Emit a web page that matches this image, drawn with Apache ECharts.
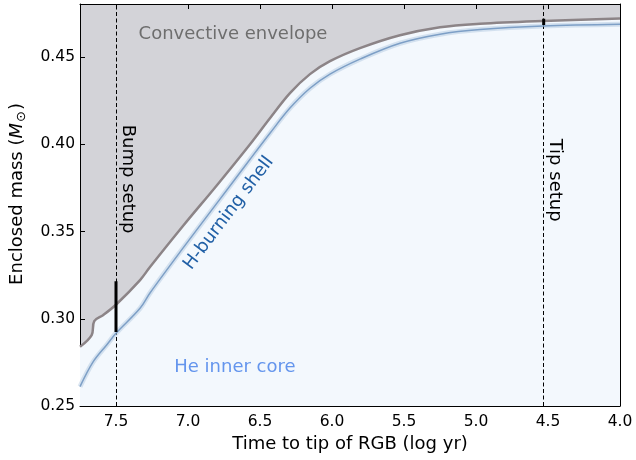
<!DOCTYPE html>
<html>
<head>
<meta charset="utf-8">
<script src="https://cdn.jsdelivr.net/npm/echarts@6/dist/echarts.min.js"></script>
<style>html,body{margin:0;padding:0;background:#fff}#c{width:636px;height:460px}</style>
</head>
<body>
<div id="c"></div>
<script>
// Base of convective envelope (upper curve)
const envX = [7.75, 7.669, 7.651, 7.588, 7.495, 7.333, 7.264, 7.035, 6.799, 6.569, 6.431, 6.292, 6.153, 6.014, 5.806, 5.528, 5.250, 4.972, 4.535, 4.0];
const envM = [0.2840, 0.2907, 0.2987, 0.3022, 0.3085, 0.3222, 0.3297, 0.3532, 0.3766, 0.4001, 0.4150, 0.4294, 0.4403, 0.4477, 0.4552, 0.4626, 0.4672, 0.4692, 0.4708, 0.4722];
// H-burning shell (lower curve)
const shellX = [7.75, 7.658, 7.565, 7.5, 7.333, 7.264, 7.035, 6.799, 6.569, 6.431, 6.292, 6.153, 6.014, 5.806, 5.528, 5.25, 4.972, 4.535, 4.0];
const shellM = [0.2611, 0.2754, 0.2850, 0.2917, 0.3060, 0.3148, 0.3405, 0.3663, 0.3915, 0.4064, 0.4208, 0.4322, 0.4403, 0.4489, 0.4580, 0.4632, 0.4659, 0.4679, 0.4689];
// setup markers
const bumpX = 7.5, bumpRange = [0.2925, 0.3215];
const tipX = 4.53, tipRange = [0.4685, 0.4721];
// axis ticks
const xTicks = [4.0, 4.5, 5.0, 5.5, 6.0, 6.5, 7.0, 7.5];
const yTicks = [0.25, 0.30, 0.35, 0.40, 0.45];
// annotations [text, x, y, rotationDeg, color]
const notes = [
  ['Convective envelope', 6.6875, 0.4632, 0, '#6e6e6e'],
  ['He inner core', 6.674, 0.2724, 0, '#6495ed'],
  ['H-burning shell', 6.717, 0.3606, 52.8, '#2160a6'],
  ['Bump setup', 7.417, 0.3801, -90, '#000000'],
  ['Tip setup', 4.451, 0.3795, -90, '#000000']
];

const FF = 'DejaVu Sans';
const zip = (a, b) => a.map((v, i) => [v, b[i]]);
const chart = echarts.init(document.getElementById('c'), null, {renderer: 'canvas'});

const xBase = {
  type: 'value', min: 4.0, max: 7.75, interval: 0.5, inverse: true,
  axisLine: {show: true, onZero: false, lineStyle: {color: '#000', width: 1}},
  axisTick: {show: true, inside: true, length: 5, lineStyle: {color: '#000'}},
  splitLine: {show: false}
};
const yBase = {
  type: 'value', min: 0.25, max: 0.4805, interval: 0.05,
  axisLine: {show: true, onZero: false, lineStyle: {color: '#000', width: 1}},
  axisTick: {show: true, inside: true, length: 5, lineStyle: {color: '#000'}},
  splitLine: {show: false}
};

chart.setOption({
  animation: false,
  grid: {left: 80, right: 16, top: 4, bottom: 54, show: true, backgroundColor: '#d3d3d8', borderWidth: 0},
  xAxis: [
    Object.assign({}, xBase, {
      position: 'bottom',
      name: 'Time to tip of RGB (log yr)', nameLocation: 'middle', nameGap: 27,
      nameTextStyle: {fontFamily: FF, fontSize: 18, color: '#000'},
      axisLabel: {fontFamily: FF, fontSize: 15.5, color: '#000', margin: 8, showMaxLabel: false,
        formatter: v => xTicks.some(t => Math.abs(t - v) < 1e-6) ? v.toFixed(1) : ''}
    }),
    Object.assign({}, xBase, {position: 'top', axisLabel: {show: false}})
  ],
  yAxis: [
    Object.assign({}, yBase, {
      position: 'left',
      name: '{a|Enclosed mass (}{i|M}{s|⊙}{a|)}', nameLocation: 'middle', nameGap: 52, nameRotate: 90,
      nameTextStyle: {fontFamily: FF, fontSize: 18, color: '#000', padding: [0, 0, 0, 22],
        rich: {a: {fontFamily: FF, fontSize: 18, color: '#000'},
               i: {fontFamily: FF, fontSize: 18, fontStyle: 'italic', color: '#000'},
               s: {fontFamily: FF, fontSize: 13, color: '#000', padding: [9, 1, 0, 1]}}},
      axisLabel: {fontFamily: FF, fontSize: 15.5, color: '#000', margin: 5, showMaxLabel: false,
        formatter: v => yTicks.some(t => Math.abs(t - v) < 1e-6) ? v.toFixed(2) : ''}
    }),
    Object.assign({}, yBase, {position: 'right', axisLabel: {show: false}})
  ],
  series: [
    {
      name: 'envelope', type: 'line', data: zip(envX, envM), smooth: 0.35, symbol: 'none', z: 3,
      lineStyle: {color: '#8c8487', width: 2.5},
      areaStyle: {color: '#f3f8fd', opacity: 1, origin: 'start'}
    },
    {
      name: 'shellBand', type: 'line', data: zip(shellX, shellM), smooth: 0.35, symbol: 'none', z: 4,
      lineStyle: {color: 'rgba(140,172,210,0.3)', width: 5}
    },
    {
      name: 'shell', type: 'line', data: zip(shellX, shellM), smooth: 0.35, symbol: 'none', z: 5,
      lineStyle: {color: '#7d9fc6', width: 1.5},
      markLine: {
        silent: true, symbol: 'none', label: {show: false},
        lineStyle: {color: '#000', width: 1, type: [4, 2.5]},
        data: [{xAxis: bumpX}, {xAxis: tipX}]
      }
    },
    {
      name: 'bumpBar', type: 'line', data: [[bumpX, bumpRange[0]], [bumpX, bumpRange[1]]],
      symbol: 'none', z: 8, lineStyle: {color: '#000', width: 3}
    },
    {
      name: 'tipBar', type: 'line', data: [[tipX, tipRange[0]], [tipX, tipRange[1]]],
      symbol: 'none', z: 8, lineStyle: {color: '#000', width: 3}
    }
  ]
});

const g = notes.map(n => {
  const p = chart.convertToPixel({gridIndex: 0}, [n[1], n[2]]);
  return {
    type: 'text', x: p[0], y: p[1], rotation: n[3] * Math.PI / 180, z: 20,
    style: {text: n[0], fill: n[4], font: '18px "DejaVu Sans"', align: 'center', verticalAlign: 'middle'}
  };
});
chart.setOption({graphic: g});
</script>
</body>
</html>
